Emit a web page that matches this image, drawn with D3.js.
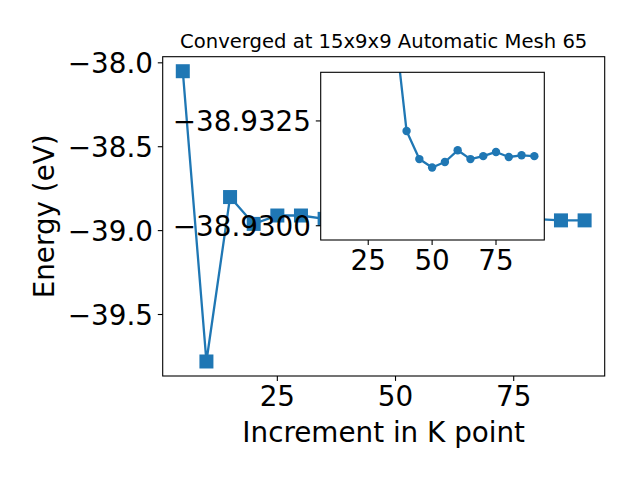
<!DOCTYPE html>
<html><head><meta charset="utf-8">
<script src="https://cdn.jsdelivr.net/npm/d3@7"></script>
<style>body{margin:0;background:#fff}svg{display:block}text{font-family:"DejaVu Sans",sans-serif;fill:#000}</style>
</head><body>
<svg id="c" width="640" height="480"></svg>
<script>
// Main series
const kPoints = [5,10,15,20,25,30,35,40,45,50,55,60,65,70,75,80,85,90];
const energies = [-38.05,-39.78,-38.80,-38.96,-38.91,-38.91,-38.93,-38.932,-38.932,-38.931,-38.932,-38.932,-38.932,-38.932,-38.932,-38.932,-38.939,-38.939];
// Inset series
const insetK = [35,40,45,50,55,60,65,70,75,80,85,90];
const insetE = [-38.93498,-38.93226,-38.93159,-38.93139,-38.93152,-38.93180,-38.93159,-38.93166,-38.93176,-38.93164,-38.93168,-38.93166];
const xTicks = [25,50,75];
const yTicks = [-38.0,-38.5,-39.0,-39.5];
const insetYTicks = [-38.9325,-38.9300];
const title = "Converged at 15x9x9 Automatic Mesh 65";
const xLabel = "Increment in K point";
const yLabel = "Energy (eV)";

const blue = "#1f77b4";
const svg = d3.select("#c");
const minus = s => s.replace("-", "\u2212");

// main axes
const M = {l:162.7, r:604.7, t:56.7, b:376};
const x = d3.scaleLinear().domain([0.75, 94.25]).range([M.l, M.r]);
const y = d3.scaleLinear().domain([-39.8665, -37.9635]).range([M.b, M.t]);

svg.append("defs").append("clipPath").attr("id","mainClip")
  .append("rect").attr("x",M.l).attr("y",M.t).attr("width",M.r-M.l).attr("height",M.b-M.t);

const main = svg.append("g");
main.append("path").datum(kPoints.map((k,i)=>[k,energies[i]]))
  .attr("d", d3.line().x(d=>x(d[0])).y(d=>y(d[1])))
  .attr("fill","none").attr("stroke",blue).attr("stroke-width",2.3).attr("stroke-linejoin","round");
main.selectAll("rect.m").data(kPoints.map((k,i)=>[k,energies[i]])).join("rect")
  .attr("class","m")
  .attr("x",d=>x(d[0])-7).attr("y",d=>y(d[1])-7).attr("width",14).attr("height",14)
  .attr("fill",blue);

// main frame
main.append("rect").attr("x",M.l).attr("y",M.t).attr("width",M.r-M.l).attr("height",M.b-M.t)
  .attr("fill","none").attr("stroke","#000").attr("stroke-width",1.1);

// main x ticks
const gx = svg.append("g");
xTicks.forEach(t=>{
  gx.append("line").attr("x1",x(t)).attr("x2",x(t)).attr("y1",M.b).attr("y2",M.b+4.9).attr("stroke","#000").attr("stroke-width",1.1);
  gx.append("text").attr("x",x(t)).attr("y",406).attr("text-anchor","middle").attr("font-size",27.8).text(t);
});
// main y ticks
const gy = svg.append("g");
yTicks.forEach(t=>{
  gy.append("line").attr("x1",M.l-4.9).attr("x2",M.l).attr("y1",y(t)).attr("y2",y(t)).attr("stroke","#000").attr("stroke-width",1.1);
  gy.append("text").attr("x",M.l-9.7).attr("y",y(t)+10).attr("text-anchor","end").attr("font-size",27.8).text(minus(t.toFixed(1)));
});

svg.append("text").attr("x",(M.l+M.r)/2).attr("y",48).attr("text-anchor","middle").attr("font-size",19.6).text(title);
svg.append("text").attr("x",(M.l+M.r)/2).attr("y",441.5).attr("text-anchor","middle").attr("font-size",27.8).text(xLabel);
svg.append("text").attr("transform",`translate(53.5,${(M.t+M.b)/2}) rotate(-90)`).attr("text-anchor","middle").attr("font-size",27.8).text(yLabel);

// inset axes
const I = {l:320.7, r:544.3, t:72.3, b:240};
const xi = d3.scaleLinear().domain([6.4, 93.9]).range([I.l, I.r]);
const yi = d3.scaleLinear().domain([-38.92966, -38.93366]).range([I.b, I.t]);
svg.select("defs").append("clipPath").attr("id","insetClip")
  .append("rect").attr("x",I.l).attr("y",I.t).attr("width",I.r-I.l).attr("height",I.b-I.t);
const ins = svg.append("g");
ins.append("rect").attr("x",I.l).attr("y",I.t).attr("width",I.r-I.l).attr("height",I.b-I.t).attr("fill","#fff");
const ic = ins.append("g").attr("clip-path","url(#insetClip)");
const idata = insetK.map((k,i)=>[k,insetE[i]]);
ic.append("path").datum(idata)
  .attr("d", d3.line().x(d=>xi(d[0])).y(d=>yi(d[1])))
  .attr("fill","none").attr("stroke",blue).attr("stroke-width",2.3).attr("stroke-linejoin","round");
ic.selectAll("circle").data(idata).join("circle")
  .attr("cx",d=>xi(d[0])).attr("cy",d=>yi(d[1])).attr("r",4.2).attr("fill",blue);
ins.append("rect").attr("x",I.l).attr("y",I.t).attr("width",I.r-I.l).attr("height",I.b-I.t)
  .attr("fill","none").attr("stroke","#000").attr("stroke-width",1.1);
xTicks.forEach(t=>{
  ins.append("line").attr("x1",xi(t)).attr("x2",xi(t)).attr("y1",I.b).attr("y2",I.b+4.9).attr("stroke","#000").attr("stroke-width",1.1);
  ins.append("text").attr("x",xi(t)).attr("y",I.b+29.7).attr("text-anchor","middle").attr("font-size",27.8).text(t);
});
insetYTicks.forEach(t=>{
  ins.append("line").attr("x1",I.l-4.9).attr("x2",I.l).attr("y1",yi(t)).attr("y2",yi(t)).attr("stroke","#000").attr("stroke-width",1.1);
  ins.append("text").attr("x",I.l-9.7).attr("y",yi(t)+10).attr("text-anchor","end").attr("font-size",27.8).text(minus(t.toFixed(4)));
});
</script>
</body></html>
